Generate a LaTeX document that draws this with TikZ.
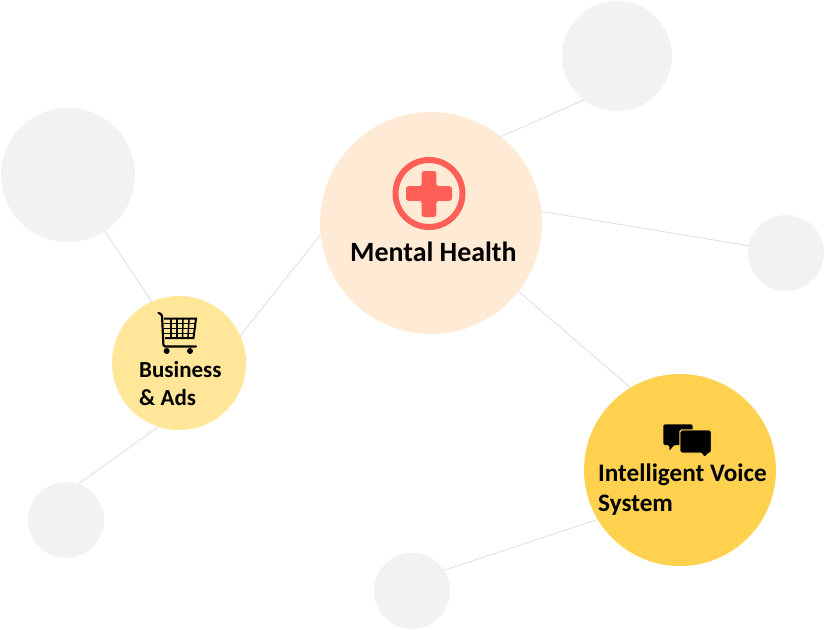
\documentclass[tikz,border=0pt]{standalone}
\usepackage{fontspec}
\setmainfont{Carlito}
\definecolor{bubble}{HTML}{F2F2F2}
\definecolor{health}{HTML}{FFEAD5}
\definecolor{business}{HTML}{FFE699}
\definecolor{voice}{HTML}{FFD14F}
\definecolor{cross}{HTML}{FF5F57}
\definecolor{connector}{HTML}{DEDEDE}
\tikzset{
    disc/.style={circle,fill=#1,inner sep=0pt,outer sep=0pt},
    conn/.style={color=connector,line width=0.8pt},
    lbl/.style={anchor=base west,inner sep=0pt,font=\bfseries\fontsize{#1}{#1}\selectfont}
}
\begin{document}
\begin{tikzpicture}[x=1pt,y=-1pt]
            \useasboundingbox (0,0) rectangle (827,629);

            \node[disc=bubble,minimum size=110pt] (top) at (617,56){};
            \node[disc=bubble,minimum size=76pt] (right) at (786,253){};
            \node[disc=bubble,minimum size=134pt] (upleft) at (68,175){};
            \node[disc=bubble,minimum size=76pt] (lowleft) at (66,520){};
            \node[disc=bubble,minimum size=76pt] (bottom) at (412,591){};
            \node[disc=health,minimum size=222pt] (mental) at (431,223){};
            \node[disc=business,minimum size=134pt] (ads) at (179,363){};
            \node[disc=voice,minimum size=192pt] (system) at (680,470){};

            \path[conn] (mental.51.6) edge (top.233);
            \path[conn] (mental.6.7) edge (right.169);
            \path[conn] (mental.-38.5) edge (system.121);
            \path[conn] (mental.186.7) edge (ads.24.6);
            \path[conn] (ads.114) edge (upleft.-57);
            \path[conn] (ads.252) edge (lowleft.71);
            \path[conn] (system.211) edge (bottom.33);

            \node[lbl=27.9] (mentaltext) at (350,261){Mental Health};
            \node[lbl=23] (adstext1) at (139,377){Business};
            \node[lbl=23] (adstext2) at (139,405){\& Ads};
            \node[lbl=25.2] (systemtext1) at (598,481){Intelligent Voice};
            \node[lbl=25.2] (systemtext2) at (598,511){System};

            % red cross
            \draw[cross,line width=6pt] (429,193.5) circle (33.5);
            \fill[cross,rounded corners=2.5pt] (421.7,171)--(436.3,171)--(436.3,186.2)--(452,186.2)--(452,200.8)--(436.3,200.8)--(436.3,217)--(421.7,217)--(421.7,200.8)--(406,200.8)--(406,186.2)--(421.7,186.2)--cycle;

            % cart
            \draw[black,line width=2.2pt,line cap=round,rounded corners=1.5pt] (158.5,313)--(162,314.5)--(163.5,346.5)--(196,346.5);
            \draw[black,line width=2pt] (164,318.5)--(196,318.5)--(193.5,338)--(165,338);
            \foreach \row in {323.5,328.5,333.5}{
                \draw[black,line width=1.5pt] (164,\row)--(195,\row);
            }
            \foreach \col/\colb in {171/171,177/177,183/182.5,189/188}{
                \draw[black,line width=1.5pt] (\col,318.5)--(\colb,338);
            }
            \fill[black] (166.7,351) circle (3);
            \fill[black] (190,351) circle (3);

            % speech bubbles
            \fill[black,rounded corners=1.5pt] (663.3,424.3)--(692.7,424.3)--(692.7,445)--(674,445)--(669.3,451)--(669.3,445)--(663.3,445)--cycle;
            \draw[black,fill=black,draw=voice,line width=1.4pt,rounded corners=1.5pt] (680,430)--(711.4,430)--(711.4,453)--(709,453)--(704.3,458)--(702,453)--(680,453)--cycle;
            \fill[black,rounded corners=1.5pt] (680.7,430.7)--(710.7,430.7)--(710.7,452.3)--(708,452.3)--(704.3,457)--(702,452.3)--(680.7,452.3)--cycle;

        \end{tikzpicture}
\end{document}
